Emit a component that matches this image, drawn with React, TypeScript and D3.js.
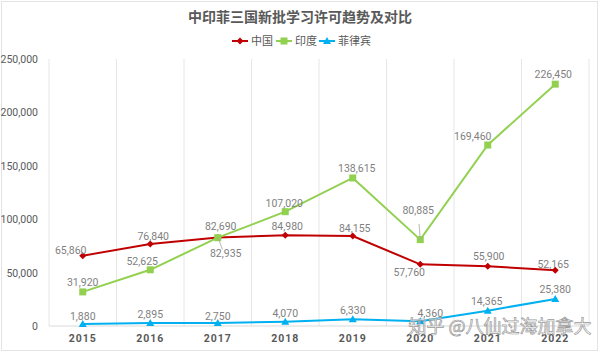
import * as d3 from "d3";

const YEARS = ["2015", "2016", "2017", "2018", "2019", "2020", "2021", "2022"];
const CHINA = [65860, 76840, 82935, 84980, 84155, 57760, 55900, 52165];
const INDIA = [31920, 52625, 82690, 107020, 138615, 80885, 169460, 226450];
const PHIL = [1880, 2895, 2750, 4070, 6330, 4360, 14365, 25380];
const Y_TICKS = [0, 50000, 100000, 150000, 200000, 250000];

const SERIES = [
  { name: "中国", values: CHINA, color: "#C00000", marker: "diamond" },
  { name: "印度", values: INDIA, color: "#92D050", marker: "square" },
  { name: "菲律宾", values: PHIL, color: "#00B0F0", marker: "triangle" },
];

// label nudges [dx, dy, leader]
const NUDGE: Record<string, [number, number, boolean][]> = {
  中国: [[-12, -2, false], [3, -4, false], [8, 20, true], [2, -5, false], [2, -4, false], [-11, 12, false], [1, -6, false], [-2, -2, false]],
  印度: [[0, -6, false], [-8, -5, false], [3, -8, false], [-1, -5, false], [4, -6, false], [-2, -26, true], [-15, -5, false], [-2, -6, false]],
  菲律宾: [[0, -4, false], [0, -5, false], [0, -3, false], [0, -5, false], [0, -5, false], [10, -4, false], [-1, -6, false], [0, -6, false]],
};

const W = 600, H = 353;
const FONT = "Roboto, 'Noto Sans CJK SC', sans-serif";
const CJK = "'Noto Sans CJK SC', sans-serif";

function Marker({ type, x, y, color }: { type: string; x: number; y: number; color: string }) {
  if (type === "diamond") return <path d={`M${x},${y - 3.5}L${x + 3.5},${y}L${x},${y + 3.5}L${x - 3.5},${y}Z`} fill={color} />;
  if (type === "square") return <rect x={x - 3.5} y={y - 3.5} width={7} height={7} fill={color} />;
  return <path d={`M${x},${y - 4}L${x + 4},${y + 3}L${x - 4},${y + 3}Z`} fill={color} />;
}

export default function App() {
  const x = d3.scaleBand().domain(YEARS).range([49, 589]);
  const y = d3.scaleLinear().domain([0, 250000]).range([326, 59]);
  const fmt = d3.format(",");
  const cx = (d: string) => (x(d) ?? 0) + x.bandwidth() / 2;
  const line = d3.line<number>().x((_, i) => cx(YEARS[i])).y(v => y(v));

  const legendX = [232, 276, 319];

  return (
    <svg width={W} height={H} style={{ position: "absolute", left: 0, top: 0, background: "white" }}>
      <rect x={1.5} y={1.5} width={W - 4} height={H - 4} fill="white" stroke="#e3e3e3" />
      <text x={300} y={22} textAnchor="middle" fontFamily={CJK} fontSize={14} fontWeight="bold" fill="#595959">中印菲三国新批学习许可趋势及对比</text>

      {SERIES.map((s, i) => (
        <g key={s.name}>
          <line x1={legendX[i]} x2={legendX[i] + 16} y1={41} y2={41} stroke={s.color} strokeWidth={2} />
          <Marker type={s.marker} x={legendX[i] + 8} y={41} color={s.color} />
          <text x={legendX[i] + 19} y={45} fontFamily={CJK} fontSize={11} fill="#595959">{s.name}</text>
        </g>
      ))}

      {d3.range(YEARS.length + 1).map(i => {
        const gx = 49 + i * x.step();
        return <line key={i} x1={gx} x2={gx} y1={59} y2={326} stroke="#e6e6e6" strokeWidth={1} />;
      })}
      <line x1={49} x2={589} y1={326} y2={326} stroke="#d9d9d9" />

      {Y_TICKS.map(t => (
        <text key={t} x={38} y={y(t) + 4} textAnchor="end" fontFamily={FONT} fontSize={10.5} fill="#595959">{fmt(t)}</text>
      ))}
      {YEARS.map(yr => (
        <text key={yr} x={cx(yr)} y={342} textAnchor="middle" fontFamily={FONT} fontSize={10.5} fontWeight="bold" letterSpacing={1} fill="#595959">{yr}</text>
      ))}

      {SERIES.map(s => (
        <g key={s.name}>
          <path d={line(s.values) ?? ""} fill="none" stroke={s.color} strokeWidth={2} />
          {s.values.map((v, i) => <Marker key={i} type={s.marker} x={cx(YEARS[i])} y={y(v)} color={s.color} />)}
        </g>
      ))}

      {SERIES.map(s => (
        <g key={s.name + "-lbl"}>
          {s.values.map((v, i) => {
            const [dx, dy, leader] = NUDGE[s.name][i];
            const px = cx(YEARS[i]), py = y(v);
            return (
              <g key={i}>
                {leader && <line x1={px} y1={py} x2={px + dx * 0.6} y2={py + dy * 0.6} stroke="#a6a6a6" strokeWidth={0.8} />}
                <text x={px + dx} y={py + dy} textAnchor="middle" fontFamily={FONT} fontSize={10.5} fill="#7f7f7f">{fmt(v)}</text>
              </g>
            );
          })}
        </g>
      ))}

      <text x={500} y={333} textAnchor="middle" fontFamily={CJK} fontSize={18} fill="white" fillOpacity={0.6} stroke="#9a9a9a" strokeWidth={0.7}>知乎 @八仙过海加拿大</text>
    </svg>
  );
}
